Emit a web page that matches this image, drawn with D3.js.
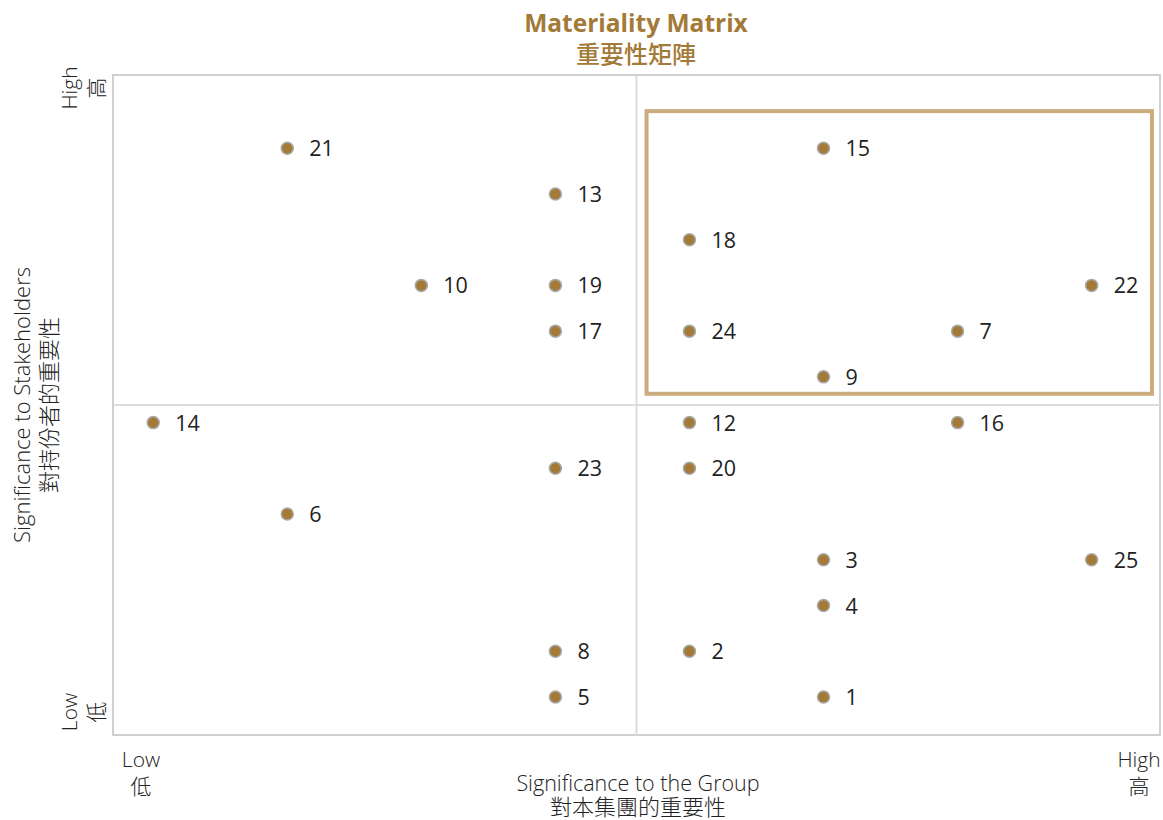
<!DOCTYPE html>
<html><head><meta charset="utf-8">
<script src="https://cdn.jsdelivr.net/npm/d3@7/dist/d3.min.js"></script>
<style>
body{margin:0;background:#fff;}
svg{display:block;font-family:"Open Sans","Noto Sans","Noto Sans CJK TC",sans-serif;}
</style></head>
<body>
<svg id="chart" width="1163" height="820"></svg>
<script>
// Data
const issueIds   = [21, 15, 13, 18, 10, 19, 22, 17, 24, 7, 9, 14, 12, 16, 23, 20, 6, 3, 25, 4, 8, 2, 5, 1];
const groupSig   = [ 2,  6,  4,  5,  3,  4,  8,  4,  5, 7, 6,  1,  5,  7,  4,  5, 2, 6,  8, 6, 4, 5, 4, 6];
const stakeSig   = [13, 13, 12, 11, 10, 10, 10,  9,  9, 9, 8,  7,  7,  7,  6,  6, 5, 4,  4, 3, 2, 2, 1, 1];
const xDomain = [0.70, 8.51];
const yDomain = [0.17, 14.60];
const highlightX = [4.68, 8.45];
const highlightY = [7.63, 13.81];
const titleLines = ["Materiality Matrix", "重要性矩陣"];
const xAxisTitle = ["Significance to the Group", "對本集團的重要性"];
const yAxisTitle = ["Significance to Stakeholders", "對持份者的重要性"];
const lowLabel = ["Low", "低"];
const highLabel = ["High", "高"];

const svg = d3.select("#chart");
const L = 113, R = 1160, T = 75, B = 735;
const x = d3.scaleLinear().domain(xDomain).range([L, R]);
const y = d3.scaleLinear().domain(yDomain).range([B, T]);
const xMid = (xDomain[0] + xDomain[1]) / 2, yMid = (yDomain[0] + yDomain[1]) / 2;

const gold = "#a37a37";
// Title
svg.append("text").attr("x", 636).attr("y", 32).attr("text-anchor", "middle")
  .attr("fill", gold).attr("font-size", 24.5).attr("font-weight", "bold").text(titleLines[0]);
svg.append("text").attr("x", 636).attr("y", 63).attr("text-anchor", "middle")
  .attr("fill", gold).attr("font-size", 24).attr("font-weight", 500)
  .attr("font-family", "Noto Sans CJK TC").text(titleLines[1]);

// Frame & quadrant lines
const gridCol = "#dcdcdc";
svg.append("rect").attr("x", L).attr("y", T).attr("width", R - L).attr("height", B - T)
  .attr("fill", "none").attr("stroke", "#d0d0d0").attr("stroke-width", 2);
svg.append("line").attr("x1", x(xMid)).attr("x2", x(xMid)).attr("y1", T).attr("y2", B)
  .attr("stroke", gridCol).attr("stroke-width", 2);
svg.append("line").attr("x1", L).attr("x2", R).attr("y1", y(yMid)).attr("y2", y(yMid))
  .attr("stroke", gridCol).attr("stroke-width", 2);

// Highlight box
svg.append("rect").attr("x", x(highlightX[0])).attr("y", y(highlightY[1]))
  .attr("width", x(highlightX[1]) - x(highlightX[0])).attr("height", y(highlightY[0]) - y(highlightY[1]))
  .attr("fill", "none").attr("stroke", "#cbac7e").attr("stroke-width", 4);

// Points
const pts = issueIds.map((id, i) => ({id, gx: groupSig[i], sy: stakeSig[i]}));
const g = svg.append("g");
g.selectAll("circle").data(pts).join("circle")
  .attr("cx", d => x(d.gx)).attr("cy", d => y(d.sy)).attr("r", 6)
  .attr("fill", gold).attr("stroke", "#a9a9a9").attr("stroke-width", 1.5);
g.selectAll("text").data(pts).join("text")
  .attr("x", d => x(d.gx) + 22).attr("y", d => y(d.sy) + 8)
  .attr("font-size", 21.5).attr("fill", "#222").text(d => d.id);

// Axis labels
const axCol = "#222";
function hText(tx, ty, s, size, cjk) {
  svg.append("text").attr("x", tx).attr("y", ty).attr("text-anchor", "middle")
    .attr("fill", axCol).attr("font-size", size).attr("font-weight", 300)
    .attr("font-family", cjk ? "Noto Sans CJK TC" : null).text(s);
}
hText(141, 767, lowLabel[0], 21, false);
hText(141, 794, lowLabel[1], 21, true);
hText(1139, 767, highLabel[0], 21, false);
hText(1139, 794, highLabel[1], 21, true);
hText(638, 791, xAxisTitle[0], 21.5, false);
hText(638, 815, xAxisTitle[1], 22, true);

function vText(tx, ty, s, size, cjk) {
  svg.append("text").attr("transform", `translate(${tx},${ty}) rotate(-90)`).attr("text-anchor", "middle")
    .attr("fill", axCol).attr("font-size", size).attr("font-weight", 300)
    .attr("font-family", cjk ? "Noto Sans CJK TC" : null).text(s);
}
vText(77, 88, highLabel[0], 21, false);
vText(104, 88, highLabel[1], 21, true);
vText(77, 712, lowLabel[0], 21, false);
vText(104, 712, lowLabel[1], 21, true);
vText(30, 405, yAxisTitle[0], 22, false);
vText(57, 405, yAxisTitle[1], 22, true);
</script>
</body></html>
